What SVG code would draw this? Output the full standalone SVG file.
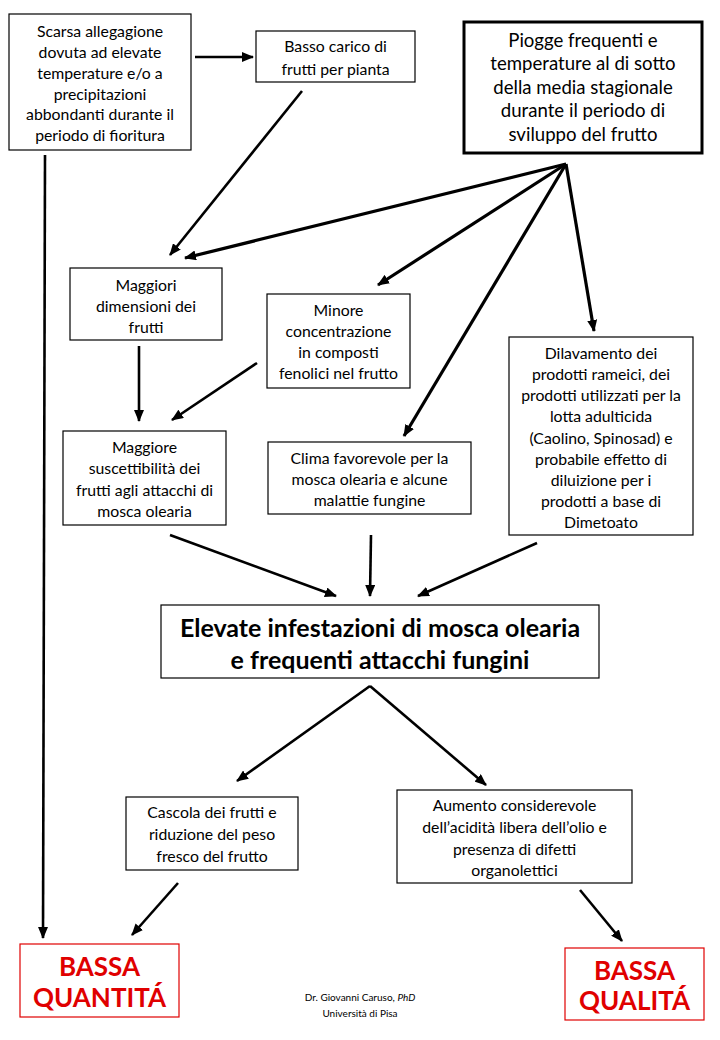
<svg xmlns="http://www.w3.org/2000/svg" width="720" height="1040" viewBox="0 0 720 1040">
<style>
.box{fill:#fff;stroke:#000;stroke-width:1.2}
.thick{fill:#fff;stroke:#000;stroke-width:3}
.red{fill:#fff;stroke:#e00000;stroke-width:1.2}
text{font-family:Lato,"Open Sans","Liberation Sans",sans-serif;text-anchor:middle;dominant-baseline:central;fill:#000}
.t{font-size:15.8px}
.tl{font-size:18.6px}
.tb{font-size:25px;font-weight:bold}
.tr{font-size:26px;font-weight:bold;fill:#e00000}
.f{font-size:10px}
.c line{stroke:#000;stroke-width:2.6;marker-end:url(#a)}
.c line.w{stroke-width:3.2}
</style>
<defs>
<marker id="a" viewBox="0 0 12 10" refX="11" refY="5" markerWidth="12" markerHeight="10" markerUnits="userSpaceOnUse" orient="auto">
<path d="M0,0 L12,5 L0,10 Z" fill="#000"/>
</marker>
</defs>
<g class="c" id="connectors">
<line x1="195" y1="57" x2="253" y2="57"/>
<line x1="302" y1="91" x2="170" y2="255"/>
<line class="w" x1="566" y1="164" x2="185" y2="258"/>
<line class="w" x1="566" y1="164" x2="378" y2="285"/>
<line class="w" x1="566" y1="164" x2="404" y2="436"/>
<line class="w" x1="566" y1="164" x2="594" y2="331"/>
<line x1="45" y1="155" x2="43" y2="938"/>
<line x1="139" y1="346" x2="139" y2="421"/>
<line x1="257" y1="363" x2="172" y2="420"/>
<line x1="170" y1="535" x2="336" y2="596"/>
<line x1="371" y1="535" x2="370" y2="596"/>
<line x1="537" y1="543" x2="418" y2="596"/>
<line x1="370" y1="686" x2="237" y2="781"/>
<line x1="370" y1="686" x2="486" y2="785"/>
<line x1="178" y1="883" x2="132" y2="935"/>
<line x1="580" y1="890" x2="622" y2="941"/>
</g>
<g id="n1"><rect class="box" x="9" y="14" width="182" height="136"/>
<text class="t" x="100" y="30">Scarsa allegagione</text>
<text class="t" x="100" y="51">dovuta ad elevate</text>
<text class="t" x="100" y="72">temperature e/o a</text>
<text class="t" x="100" y="93">precipitazioni</text>
<text class="t" x="100" y="113">abbondanti durante il</text>
<text class="t" x="100" y="134">periodo di fioritura</text></g>
<g id="n2"><rect class="box" x="256" y="31" width="159" height="51"/>
<text class="t" x="335.5" y="45">Basso carico di</text>
<text class="t" x="335.5" y="68">frutti per pianta</text></g>
<g id="n3"><rect class="thick" x="464" y="22" width="238" height="131"/>
<text class="tl" x="583" y="40">Piogge frequenti e</text>
<text class="tl" x="583" y="63">temperature al di sotto</text>
<text class="tl" x="583" y="87">della media stagionale</text>
<text class="tl" x="583" y="110">durante il periodo di</text>
<text class="tl" x="583" y="134">sviluppo del frutto</text></g>
<g id="n4"><rect class="box" x="70" y="268" width="152" height="72"/>
<text class="t" x="146" y="284">Maggiori</text>
<text class="t" x="146" y="305">dimensioni dei</text>
<text class="t" x="146" y="326">frutti</text></g>
<g id="n5"><rect class="box" x="267" y="294" width="143" height="94"/>
<text class="t" x="338.5" y="309">Minore</text>
<text class="t" x="338.5" y="330">concentrazione</text>
<text class="t" x="338.5" y="351">in composti</text>
<text class="t" x="338.5" y="372">fenolici nel frutto</text></g>
<g id="n6"><rect class="box" x="509" y="337" width="184" height="198"/>
<text class="t" x="601" y="352">Dilavamento dei</text>
<text class="t" x="601" y="373">prodotti rameici, dei</text>
<text class="t" x="601" y="394">prodotti utilizzati per la</text>
<text class="t" x="601" y="415">lotta adulticida</text>
<text class="t" x="601" y="437">(Caolino, Spinosad) e</text>
<text class="t" x="601" y="458">probabile effetto di</text>
<text class="t" x="601" y="479">diluizione per i</text>
<text class="t" x="601" y="500">prodotti a base di</text>
<text class="t" x="601" y="521">Dimetoato</text></g>
<g id="n7"><rect class="box" x="63" y="431" width="163" height="94"/>
<text class="t" x="144.5" y="446">Maggiore</text>
<text class="t" x="144.5" y="467">suscettibilità dei</text>
<text class="t" x="144.5" y="489">frutti agli attacchi di</text>
<text class="t" x="144.5" y="510">mosca olearia</text></g>
<g id="n8"><rect class="box" x="268" y="442" width="203" height="72"/>
<text class="t" x="369.5" y="457">Clima favorevole per la</text>
<text class="t" x="369.5" y="478">mosca olearia e alcune</text>
<text class="t" x="369.5" y="499">malattie fungine</text></g>
<g id="n9"><rect class="box" x="161" y="605" width="438" height="73"/>
<text class="tb" x="380" y="627">Elevate infestazioni di mosca olearia</text>
<text class="tb" x="380" y="659">e frequenti attacchi fungini</text></g>
<g id="n10"><rect class="box" x="126" y="797" width="172" height="73"/>
<text class="t" x="212" y="811">Cascola dei frutti e</text>
<text class="t" x="212" y="833">riduzione del peso</text>
<text class="t" x="212" y="855">fresco del frutto</text></g>
<g id="n11"><rect class="box" x="397" y="790" width="235" height="93"/>
<text class="t" x="514.5" y="804">Aumento considerevole</text>
<text class="t" x="514.5" y="826">dell’acidità libera dell’olio e</text>
<text class="t" x="514.5" y="848">presenza di difetti</text>
<text class="t" x="514.5" y="869">organolettici</text></g>
<g id="n12"><rect class="red" x="20" y="944" width="159" height="73"/>
<text class="tr" x="99.5" y="966">BASSA</text>
<text class="tr" x="99.5" y="997">QUANTITÁ</text></g>
<g id="n13"><rect class="red" x="565" y="948" width="139" height="72"/>
<text class="tr" x="634.5" y="970">BASSA</text>
<text class="tr" x="634.5" y="1000">QUALITÁ</text></g>
<g id="footer">
<text class="f" x="360" y="997">Dr. Giovanni Caruso, <tspan font-style="italic">PhD</tspan></text>
<text class="f" x="360" y="1013">Università di Pisa</text></g>
</svg>
